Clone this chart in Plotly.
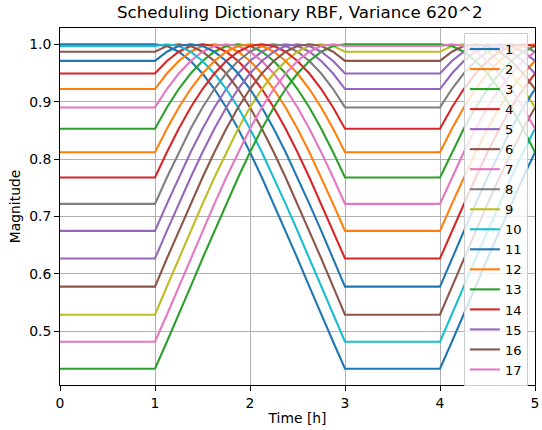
import plotly.graph_objects as go

# RBF magnitude levels (0..16 steps from centre)
levels = [1.000, 0.997, 0.987, 0.971, 0.949, 0.922, 0.890, 0.853, 0.812,
          0.768, 0.722, 0.675, 0.627, 0.578, 0.529, 0.482, 0.435]

# series labels and the time [h] at which each series peaks
labels = [str(i) for i in range(1, 18)]
peak_time = [1.0, 1.625, 1.875, 1.5, 2.375, 1.25, 1.75, 2.25, 2.75,
             1.125, 1.375, 2.0, 3.0, 2.125, 2.5, 2.625, 2.875]

# schedule sample times [h]
ramp_up = [1 + j / 8 for j in range(17)]      # 1 .. 3
ramp_down = [4 + j / 8 for j in range(9)]     # 4 .. 5
times = [0.0] + ramp_up + ramp_down

colors = ["#1f77b4", "#ff7f0e", "#2ca02c", "#d62728", "#9467bd",
          "#8c564b", "#e377c2", "#7f7f7f", "#bcbd22", "#17becf"]

fig = go.Figure()
for i, (lab, pk) in enumerate(zip(labels, peak_time)):
    k = round((pk - 1) * 8)
    vals = [levels[k]]
    vals += [levels[abs(j - k)] for j in range(17)]
    vals += [levels[abs(16 - j - k)] for j in range(9)]
    fig.add_trace(go.Scatter(x=times, y=vals, mode="lines", name=lab,
                             line=dict(color=colors[i % 10], width=2.1)))

font = "DejaVu Sans, Verdana, sans-serif"
axis_common = dict(showline=True, mirror=True, linecolor="black", linewidth=1,
                   showgrid=True, gridcolor="#b0b0b0", gridwidth=0.8,
                   ticks="outside", ticklen=5, tickwidth=1, tickcolor="black",
                   zeroline=False, ticklabeloverflow="allow",
                   tickfont=dict(size=13.9, color="black", family=font))

fig.update_layout(
    width=542, height=430,
    margin=dict(l=60, r=3, t=28, b=45),
    paper_bgcolor="white", plot_bgcolor="white",
    font=dict(family=font, color="black"),
    title=dict(text="Scheduling Dictionary RBF, Variance 620^2",
               x=(60 + 539.5) / 2 / 542, xanchor="center",
               y=1 - 12 / 430, yanchor="middle", yref="container",
               font=dict(size=16.7, color="black", family=font)),
    xaxis=dict(range=[0, 5], tickvals=[0, 1, 2, 3, 4, 5],
               title=dict(text="Time [h]", font=dict(size=13.9), standoff=3),
               **axis_common),
    yaxis=dict(range=[0.4067, 1.0283], tickvals=[0.5, 0.6, 0.7, 0.8, 0.9, 1.0],
               ticktext=["0.5", "0.6", "0.7", "0.8", "0.9", "1.0"],
               title=dict(text="Magnitude", font=dict(size=13.9), standoff=5),
               **axis_common),
    legend=dict(x=0.985, y=0.986, xanchor="right", yanchor="top",
                bgcolor="rgba(255,255,255,0.8)", bordercolor="#cccccc",
                borderwidth=1, font=dict(size=13.1, family=font),
                itemwidth=30, tracegroupgap=0),
    showlegend=True,
)

fig.write_html("out.html")
